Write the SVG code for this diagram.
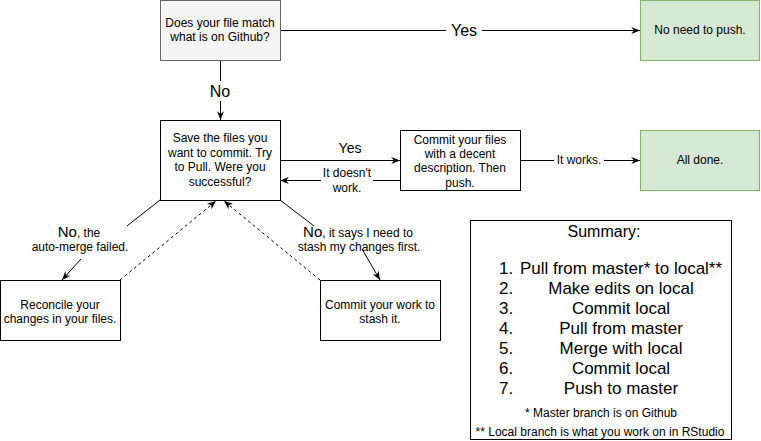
<svg xmlns="http://www.w3.org/2000/svg" width="761" height="441" viewBox="0 0 761 441">
<style>
text{font-family:"Liberation Sans",Arial,Helvetica,sans-serif;fill:#000}
.n{font-size:12px;text-anchor:middle}
.box{fill:#fff;stroke:#000;stroke-width:1}
.gray{fill:#f5f5f5;stroke:#666;stroke-width:1}
.green{fill:#d5e8d4;stroke:#82b366;stroke-width:1}
.e{fill:none;stroke:#000;stroke-width:1}
.d{fill:none;stroke:#000;stroke-width:1;stroke-dasharray:3 3}
.lbl{font-size:12px;text-anchor:middle}
.big{font-size:16px;text-anchor:middle}
.mid{font-size:14px;text-anchor:middle}
.bg{fill:#fff}
.li{font-size:17px}
.lc{font-size:17px;text-anchor:middle}
.fn{font-size:12px;text-anchor:middle}
</style>
<defs>
<marker id="arr" viewBox="0 0 10 8" refX="10" refY="4" markerWidth="9" markerHeight="7" markerUnits="userSpaceOnUse" orient="auto">
<path d="M0,0 L10,4 L0,8 L3,4 z" fill="#000"/>
</marker>
</defs>
<rect width="761" height="441" fill="#fff"/>
<g id="connectors">
<path class="e" d="M280.5 30.5 H640" marker-end="url(#arr)"/>
<rect class="bg" x="446" y="20" width="36" height="20"/>
<text class="big" x="464" y="36">Yes</text>
<path class="e" d="M220.5 60 V120" marker-end="url(#arr)"/>
<rect class="bg" x="206" y="81" width="28" height="20"/>
<text class="big" x="220" y="97">No</text>
<path class="e" d="M280 160.5 H400" marker-end="url(#arr)"/>
<text class="mid" x="350" y="153">Yes</text>
<path class="e" d="M400 180.5 H280" marker-end="url(#arr)"/>
<rect class="bg" x="321" y="166" width="52" height="28"/>
<text class="lbl" x="347" y="177">It doesn't</text>
<text class="lbl" x="347" y="192">work.</text>
<path class="e" d="M520 160.5 H640" marker-end="url(#arr)"/>
<rect class="bg" x="554" y="153" width="50" height="15"/>
<text class="lbl" x="579" y="164">It works.</text>
<path class="e" d="M160 200 L127 226 M81 259 L62 280" marker-end="url(#arr)"/>
<text class="lbl" x="79" y="237"><tspan font-size="15">No</tspan>, the</text>
<text class="lbl" x="80" y="251">auto-merge failed.</text>
<path class="e" d="M280 200 L314 226 M362 249 L380 280" marker-end="url(#arr)"/>
<text class="lbl" x="358" y="237"><tspan font-size="15">No</tspan>, it says I need to</text>
<text class="lbl" x="359" y="251">stash my changes first.</text>
<path class="d" d="M120 280 L216 201" marker-end="url(#arr)"/>
<path class="d" d="M320 280 L224 201" marker-end="url(#arr)"/>
</g>
<g id="n-match">
<rect class="gray" x="160.5" y="0.5" width="120" height="60"/>
<text class="n" x="220" y="27">Does your file match</text>
<text class="n" x="220" y="41">what is on Github?</text>
</g>
<g id="n-nopush">
<rect class="green" x="640.5" y="0.5" width="119" height="60"/>
<text class="n" x="700" y="34">No need to push.</text>
</g>
<g id="n-pull">
<rect class="box" x="160.5" y="120.5" width="120" height="80"/>
<text class="n" x="220" y="142">Save the files you</text>
<text class="n" x="220" y="157">want to commit. Try</text>
<text class="n" x="220" y="171">to Pull. Were you</text>
<text class="n" x="220" y="186">successful?</text>
</g>
<g id="n-commit">
<rect class="box" x="400.5" y="130.5" width="120" height="60"/>
<text class="n" x="460" y="144">Commit your files</text>
<text class="n" x="460" y="158">with a decent</text>
<text class="n" x="460" y="172">description. Then</text>
<text class="n" x="460" y="187">push.</text>
</g>
<g id="n-done">
<rect class="green" x="640.5" y="130.5" width="119" height="60"/>
<text class="n" x="700" y="164">All done.</text>
</g>
<g id="n-reconcile">
<rect class="box" x="0.5" y="280.5" width="120" height="60"/>
<text class="n" x="60" y="309">Reconcile your</text>
<text class="n" x="60" y="323">changes in your files.</text>
</g>
<g id="n-stash">
<rect class="box" x="320.5" y="280.5" width="120" height="60"/>
<text class="n" x="380" y="309">Commit your work to</text>
<text class="n" x="380" y="323">stash it.</text>
</g>
<g id="n-summary">
<rect class="box" x="470.5" y="220.5" width="261" height="219"/>
<text class="big" x="604" y="237">Summary:</text>
<text class="li" x="499" y="274">1.</text>
<text class="li" x="499" y="294">2.</text>
<text class="li" x="499" y="314">3.</text>
<text class="li" x="499" y="334">4.</text>
<text class="li" x="499" y="354">5.</text>
<text class="li" x="499" y="374">6.</text>
<text class="li" x="499" y="394">7.</text>
<text class="lc" x="621" y="274">Pull from master* to local**</text>
<text class="lc" x="621" y="294">Make edits on local</text>
<text class="lc" x="621" y="314">Commit local</text>
<text class="lc" x="621" y="334">Pull from master</text>
<text class="lc" x="621" y="354">Merge with local</text>
<text class="lc" x="621" y="374">Commit local</text>
<text class="lc" x="621" y="394">Push to master</text>
<text class="fn" x="601" y="417">* Master branch is on Github</text>
<text class="fn" x="600" y="436">** Local branch is what you work on in RStudio</text>
</g>
</svg>
